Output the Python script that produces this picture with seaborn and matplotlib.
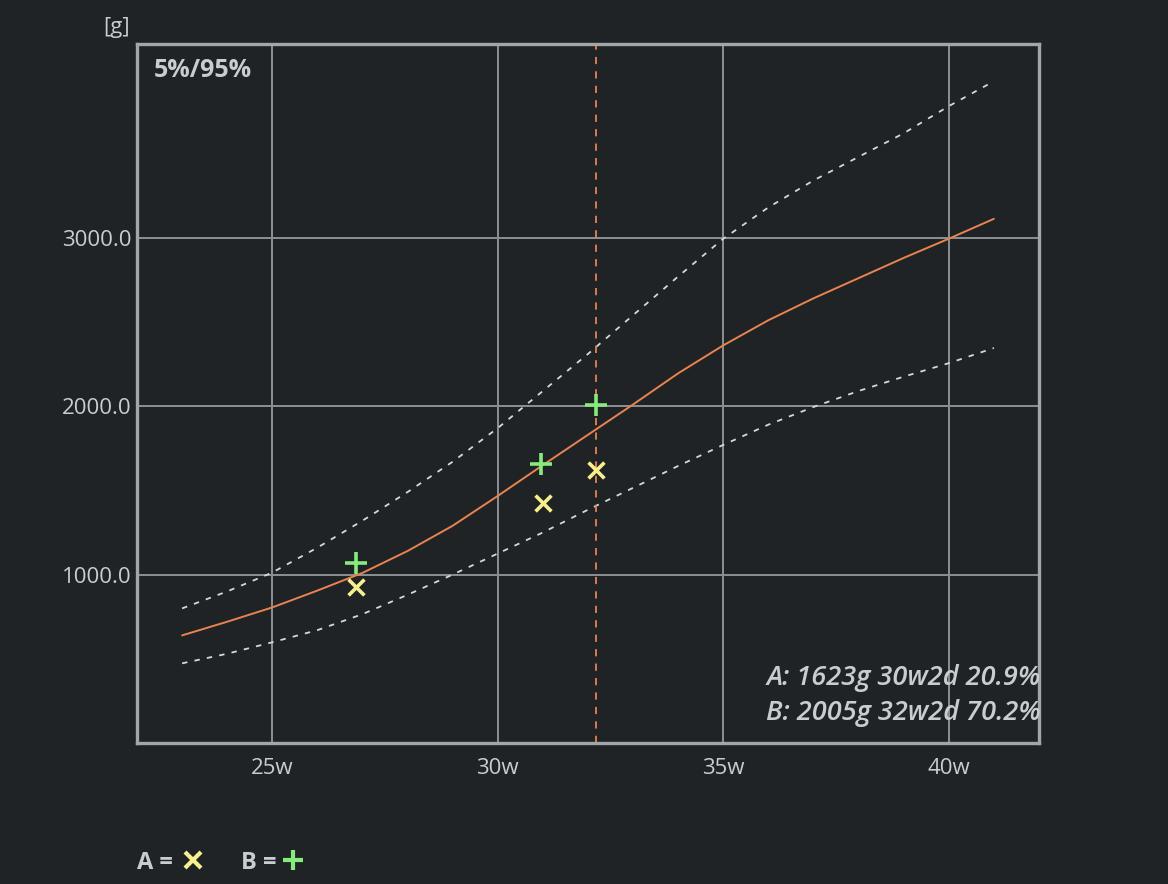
import matplotlib
matplotlib.use("Agg")
import matplotlib.pyplot as plt
from matplotlib.lines import Line2D
import seaborn as sns
import numpy as np
import pandas as pd

# ---- data ----
weeks = [23, 24, 25, 26, 27, 28, 29, 30, 31, 32, 33, 34, 35, 36, 37, 38, 39, 40, 41]
p50 = [639, 720, 805, 905, 1010, 1140, 1290, 1467, 1650, 1830, 2010, 2195, 2361, 2510, 2640, 2760, 2880, 2994, 3112]
p95 = [799, 900, 1012, 1160, 1320, 1490, 1670, 1870, 2090, 2310, 2540, 2770, 2994, 3180, 3340, 3480, 3620, 3781, 3929]
p05 = [473, 530, 598, 670, 765, 880, 1000, 1125, 1250, 1385, 1515, 1645, 1770, 1890, 1995, 2090, 2175, 2255, 2345]

a_ga = [26.86, 31.0, 32.17]
a_wt = [929, 1426, 1623]
b_ga = [26.86, 30.96, 32.17]
b_wt = [1071, 1657, 2005]

cursor_ga = 32.17

x_ticks = [25, 30, 35, 40]
x_tick_labels = ["25w", "30w", "35w", "40w"]
y_ticks = [1000, 2000, 3000]
y_tick_labels = ["1000.0", "2000.0", "3000.0"]

info_lines = ["A: 1623g 30w2d 20.9%", "B: 2005g 32w2d 70.2%"]

# ---- style ----
BG = "#202326"
GRID = "#8c8f93"
FRAME = "#a3a6a9"
TXT = "#c9cdd1"
ORANGE = "#e9834f"
DASH = "#d6d8da"
YEL = "#f6f08e"
GRN = "#86ea7c"

sns.set_theme(style="dark")
plt.rcParams["font.family"] = ["Open Sans", "DejaVu Sans"]

fig = plt.figure(figsize=(11.68, 8.84), dpi=100, facecolor=BG)
ax = fig.add_axes([137 / 1168, 1 - 743 / 884, (1039 - 137) / 1168, (743 - 44) / 884])
ax.set_facecolor(BG)

df = pd.DataFrame({"ga": weeks, "p50": p50, "p95": p95, "p05": p05})

sns.lineplot(data=df, x="ga", y="p95", ax=ax, color=DASH, lw=1.3, linestyle=(0, (3, 4)))
sns.lineplot(data=df, x="ga", y="p05", ax=ax, color=DASH, lw=1.3, linestyle=(0, (3, 4)))
sns.lineplot(data=df, x="ga", y="p50", ax=ax, color=ORANGE, lw=1.4)

ax.axvline(cursor_ga, color=ORANGE, lw=1.3, linestyle=(0, (4, 4)), zorder=2)

sns.scatterplot(x=a_ga, y=a_wt, ax=ax, marker="x", s=130, color=YEL, linewidth=2.6, zorder=5)
sns.scatterplot(x=b_ga, y=b_wt, ax=ax, marker="+", s=230, color=GRN, linewidth=2.6, zorder=5)

ax.set_xlim(22, 42)
ax.set_ylim(0, 4150)
ax.set_xticks(x_ticks)
ax.set_xticklabels(x_tick_labels)
ax.set_yticks(y_ticks)
ax.set_yticklabels(y_tick_labels)
ax.set_xlabel("")
ax.set_ylabel("")
ax.tick_params(axis="both", length=0, labelsize=16, colors=TXT)
ax.tick_params(axis="x", pad=11)
ax.tick_params(axis="y", pad=4)

ax.grid(True, color=GRID, lw=1.4, zorder=0)
ax.set_axisbelow(True)
for sp in ax.spines.values():
    sp.set_visible(True)
    sp.set_color(FRAME)
    sp.set_linewidth(2.4)

# texts
fig.text(103 / 1168, 1 - 28 / 884, "[g]", color=TXT, fontsize=16, va="center", ha="left")
ax.text(0.019, 0.962, "5%/95%", transform=ax.transAxes, color=TXT, fontsize=18,
        fontweight="bold", va="center", ha="left")
ax.text(1.002, 0.068, info_lines[0] + "\n" + info_lines[1], transform=ax.transAxes, color=TXT,
        fontsize=19.5, fontstyle="italic", fontweight="semibold", va="center", ha="right",
        linespacing=1.3)

# bottom legend
fig.text(137 / 1168, 1 - 863 / 884, "A =", color=TXT, fontsize=17, fontweight="bold", va="center")
fig.text(241 / 1168, 1 - 863 / 884, "B =", color=TXT, fontsize=17, fontweight="bold", va="center")
fig.add_artist(Line2D([193 / 1168], [1 - 860 / 884], transform=fig.transFigure, marker="x",
                      markersize=11, markeredgewidth=3, color=YEL, linestyle="none"))
fig.add_artist(Line2D([293 / 1168], [1 - 860 / 884], transform=fig.transFigure, marker="+",
                      markersize=15, markeredgewidth=3, color=GRN, linestyle="none"))

fig.savefig("out.png", dpi=100, facecolor=BG)
